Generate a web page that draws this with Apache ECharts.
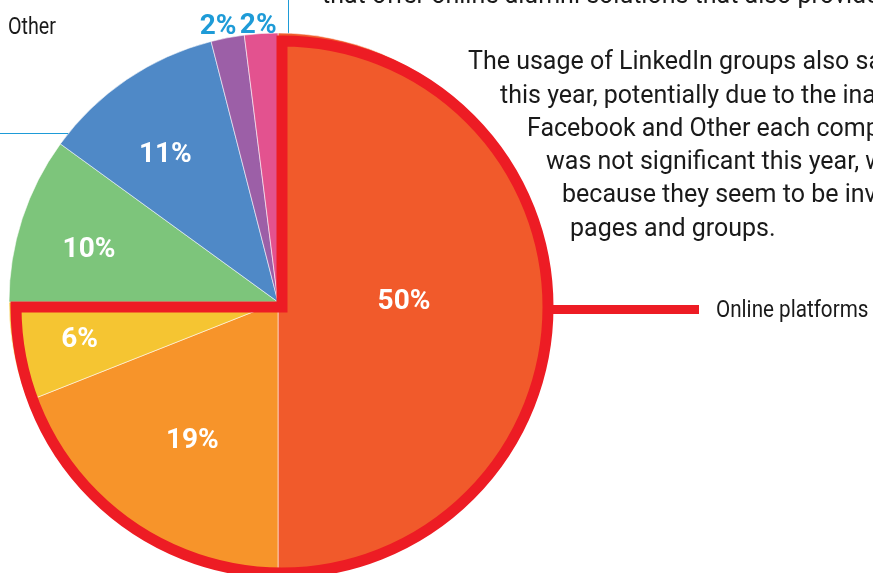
<!DOCTYPE html>
<html>
<head>
<meta charset="utf-8">
<script src="https://cdn.jsdelivr.net/npm/echarts@6/dist/echarts.min.js"></script>
<style>
  html, body { margin: 0; padding: 0; background: #ffffff; }
  #chart { width: 873px; height: 573px; }
</style>
</head>
<body>
<div id="chart"></div>
<script>
// Channel shares, clockwise from 12 o'clock
const categories = ['Online platforms', 'LinkedIn groups', 'Email', 'Events', 'Website', 'Facebook', 'Other'];
const shares = [50, 19, 6, 10, 11, 2, 2];
const sliceColors = ['#F15A2B', '#F7942A', '#F5C532', '#7DC57B', '#4F89C7', '#9C5FA7', '#E3528F'];
// The red outline wraps the first slices of the list
const outlinedCount = 3;

const paragraphLines = [
  'that offer online alumni solutions that also provide',
  'The usage of LinkedIn groups also saw',
  'this year, potentially due to the inability',
  'Facebook and Other each comprised',
  'was not significant this year, which',
  'because they seem to be involved',
  'pages and groups.'
];

// Layout
const PIE_CENTER = [278, 302];
const PIE_RADIUS = 269;
const RING_CENTER = [282, 307];
const RING_RADIUS = 266;
const RING_WIDTH = 11;
const LABEL_RADIUS = [126, 163, 202, 196, 185, 281, 277];
const LABEL_ANGLE_SHIFT = [0, -2.5, 0, -2.6, -3.3, -1.5, -0.5];
const PARA_X = [322, 468, 500, 527, 546, 562, 570];
const PARA_MID = [-3, 63, 97, 130, 163, 196, 230];

const NARROW = 'Roboto, "DejaVu Sans Condensed", sans-serif';
const RED = '#ED1C24';
const BLUE = '#1E9BD7';
const INK = '#1a1a1a';

const total = shares.reduce((a, b) => a + b, 0);
const midAngles = [];
let acc = 0;
shares.forEach((v, i) => {
  midAngles.push(2 * Math.PI * (acc + v / 2) / total + LABEL_ANGLE_SHIFT[i] * Math.PI / 180);
  acc += v;
});
const outlined = shares.slice(0, outlinedCount).reduce((a, b) => a + b, 0);

const chart = echarts.init(document.getElementById('chart'), null, { renderer: 'canvas' });

const paraFont = 25;
const graphics = [
  // leader lines from the surrounding layout
  { type: 'line', z: 0, shape: { x1: 288.5, y1: 0, x2: 288.5, y2: 36 }, style: { stroke: BLUE, lineWidth: 1 } },
  { type: 'line', z: 0, shape: { x1: 0, y1: 133.5, x2: 80, y2: 133.5 }, style: { stroke: BLUE, lineWidth: 1 } },
  { type: 'text', z: 5, x: 8, y: 28, scaleX: 0.82,
    style: { text: 'Other', x: 0, y: 0, fill: INK, font: '24px ' + NARROW, verticalAlign: 'middle' } },
  // connector to the outlined group
  { type: 'line', z: 5, shape: { x1: RING_CENTER[0] + RING_RADIUS, y1: 309.5, x2: 699, y2: 309.5 }, style: { stroke: RED, lineWidth: 9 } },
  { type: 'text', z: 5, x: 716, y: 311, scaleX: 0.86,
    style: { text: 'Online platforms', x: 0, y: 0, fill: INK, font: '24px ' + NARROW, verticalAlign: 'middle' } }
];
paragraphLines.forEach((t, i) => {
  graphics.push({
    type: 'text', z: 5,
    style: { text: t, x: PARA_X[i], y: PARA_MID[i], fill: INK, font: paraFont + 'px Roboto', verticalAlign: 'middle' }
  });
});

chart.setOption({
  animation: false,
  backgroundColor: '#ffffff',
  graphic: { elements: graphics },
  series: [
    {
      type: 'pie',
      z: 2,
      silent: true,
      center: PIE_CENTER,
      radius: PIE_RADIUS,
      startAngle: 90,
      clockwise: true,
      avoidLabelOverlap: false,
      itemStyle: { borderColor: 'rgba(255,255,255,0.55)', borderWidth: 1 },
      label: {
        show: true,
        position: 'inside',
        formatter: p => p.value + '%',
        color: '#ffffff',
        fontFamily: NARROW,
        fontWeight: 'bold',
        fontSize: 28
      },
      labelLine: { show: false },
      labelLayout: p => {
        const i = p.dataIndex;
        const a = midAngles[i];
        return {
          x: PIE_CENTER[0] + LABEL_RADIUS[i] * Math.sin(a),
          y: PIE_CENTER[1] - LABEL_RADIUS[i] * Math.cos(a),
          align: 'center',
          verticalAlign: 'middle'
        };
      },
      data: shares.map((v, i) => ({
        name: categories[i],
        value: v,
        itemStyle: { color: sliceColors[i] },
        label: i >= 5 ? { color: BLUE } : {}
      }))
    },
    {
      type: 'pie',
      z: 3,
      silent: true,
      center: RING_CENTER,
      radius: RING_RADIUS,
      startAngle: 90,
      clockwise: true,
      label: { show: false },
      labelLine: { show: false },
      data: [
        { name: 'outlined', value: outlined, itemStyle: { color: 'rgba(0,0,0,0)', borderColor: RED, borderWidth: RING_WIDTH, borderJoin: 'miter' } },
        { name: 'rest', value: total - outlined, itemStyle: { color: 'rgba(0,0,0,0)', borderWidth: 0 } }
      ]
    }
  ]
});
</script>
</body>
</html>
